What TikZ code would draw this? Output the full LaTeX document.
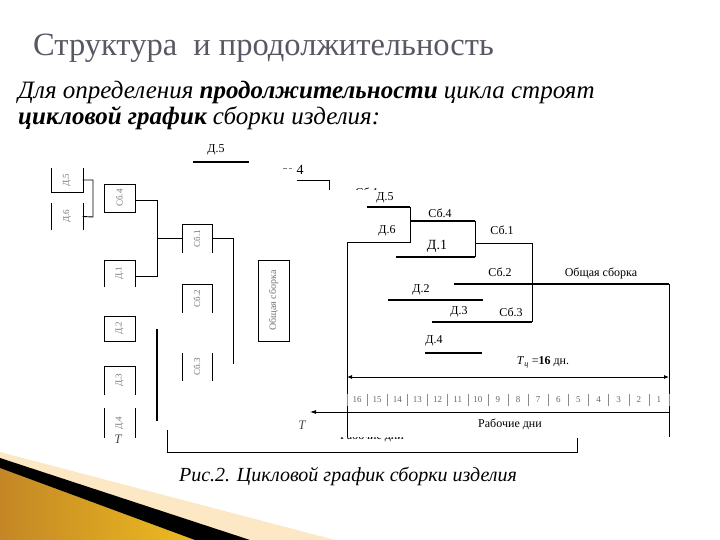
\documentclass[tikz,border=0pt]{standalone}
\usepackage{fontspec}
\setmainfont{Liberation Serif}
\usetikzlibrary{arrows.meta}
\definecolor{titlegray}{RGB}{88,88,100}
\definecolor{swooshorange}{RGB}{230,158,44}
\definecolor{swooshlight}{RGB}{252,232,196}
\tikzset{
  blk/.style={minimum width=31pt,minimum height=28pt,inner sep=0pt,font=\fontsize{9}{9}\selectfont,text=black!55},
  lnk/.style={black,line width=0.9pt},
  bar/.style={black,line width=2.6pt},
  lbl/.style={font=\fontsize{12}{12}\selectfont,inner sep=1pt},
}

\begin{document}
\begin{tikzpicture}[x=1pt,y=-1pt]
  \useasboundingbox (0,0) rectangle (720,540);
  % --- slide decoration ---
  \fill[swooshlight] (0,452) -- (335,540) -- (0,540) -- cycle;
  \shade[left color=swooshorange!85!black,right color=swooshorange!70!yellow] (0,468) -- (195,540) -- (0,540) -- cycle;
  \fill[black] (0,458) -- (250,540) -- (195,540) -- (0,468) -- cycle;
  % --- heading and text ---
  \node[anchor=base west,inner sep=0pt,text=titlegray,font=\fontsize{32.5}{32.5}\selectfont] (title) at (33,56) {Структура\ \ и продолжительность};
  \node[anchor=base west,inner sep=0pt,font=\fontsize{25}{25}\selectfont\itshape] (intro1) at (18,99) {Для определения \textbf{продолжительности} цикла строят};
  \node[anchor=base west,inner sep=0pt,font=\fontsize{25}{25}\selectfont\itshape] (intro2) at (18,125) {\textbf{цикловой график} сборки изделия:};
  \node[font=\fontsize{20}{20}\selectfont\itshape] (caption) at (348,476) {Рис.2. Цикловой график сборки изделия};
  % --- structure (left fragment) ---
  \node[blk,minimum height=24pt] (d5) at (67,180) {\rotatebox{90}{Д.5}};
  \node[blk,minimum height=27pt] (d6) at (67,216.5) {\rotatebox{90}{Д.6}};
  \node[blk,draw,thin] (sb4) at (119.5,198) {\rotatebox{90}{Сб.4}};
  \node[blk,minimum height=27pt] (d1) at (119.5,273.5) {\rotatebox{90}{Д.1}};
  \node[blk,minimum width=30pt,minimum height=29pt] (sb1) at (197,238.5) {\rotatebox{90}{Сб.1}};
  \node[blk,minimum width=30pt,minimum height=29pt] (sb2) at (197,298.5) {\rotatebox{90}{Сб.2}};
  \node[blk,minimum width=30pt] (sb3) at (197,367) {\rotatebox{90}{Сб.3}};
  \node[blk,draw,thin,minimum height=81pt,font=\fontsize{10}{10}\selectfont] (gen) at (273.5,300.5) {\rotatebox{90}{Общая сборка}};
  \node[blk,draw,thin,minimum height=25pt] (d2) at (119.5,328.5) {\rotatebox{90}{Д.2}};
  \node[blk,minimum height=29pt] (d3) at (119.5,380.5) {\rotatebox{90}{Д.3}};
  \node[blk,minimum height=30pt] (d4) at (119.5,423) {\rotatebox{90}{Д.4}};
  \node[font=\fontsize{13}{13}\selectfont\itshape,text=black!70] (tl) at (118,439) {T};
  % open box sides
  \draw[thin] (d5.north west) -- (d5.south west) -- (d5.south east) -- (d5.north east);
  \foreach \b in {d6,sb3,d4} \draw[thin] (\b.north west) -- (\b.south west) (\b.north east) -- (\b.south east);
  \foreach \b in {d1,sb1,sb2,d3} \draw[thin] (\b.south west) -- (\b.north west) -- (\b.north east) -- (\b.south east);
  % links
  \draw[lnk] (d5.east) -- (93,180) -- (93,217) -- (d6.east);
  \draw[lnk] (sb4.east |- 0,200) -- (157,200) -- (157,276) -- (d1.east |- 0,276);
  \draw[lnk] (157,238.5) -- (sb1.west);
  \draw[lnk] (sb1.east) -- (233,238.5) -- (233,364);
  \draw[black,line width=2pt] (157,329) -- (157,421);
  \draw[lnk] (167,430) -- (167,452) -- (577,452) -- (577,438);
  \begin{scope}
    \clip (300,437) rectangle (440,450);
    \node[lbl] (daysold) at (372,436) {Рабочие дни};
  \end{scope}
  % --- cycle chart ---
  \draw[bar] (193,162) -- (249,162);
  \node[lbl] (topd5) at (216,150) {Д.5};
  \draw[black!50,thin] (283,168) -- (287,168) (289,168) -- (292,168);
  \node[lbl,font=\fontsize{14}{14}\selectfont] (top4) at (300,170) {4};
  \draw[lnk] (297,180) -- (329,180) -- (329,190);
  \begin{scope}
    \clip (340,180) rectangle (400,190);
    \node[lbl] (topsb1) at (367,192) {Сб.1};
  \end{scope}
  \foreach \a/\b/\y in {367/410/207,410/475/221,396/475/257,388/483/300,432/532/322,425/482/353}
    \draw[bar] (\a,\y) -- (\b,\y);
  \draw[black,line width=1.8pt] (454,284) -- (669,284);
  \draw[lnk] (410,207) -- (410,242) -- (347,242) -- (347,437);
  \draw[lnk] (475,221) -- (475,257);
  \draw[lnk] (475,243) -- (532,243) -- (532,322);
  \draw[lnk] (669,284) -- (669,437);
  \node[lbl] (lD5) at (385,198) {Д.5};
  \node[lbl] (lD6) at (387,231) {Д.6};
  \node[lbl] (lSb4) at (440,213) {Сб.4};
  \node[lbl,font=\fontsize{14}{14}\selectfont] (lD1) at (437,246) {Д.1};
  \node[lbl] (lSb1) at (502,230) {Сб.1};
  \node[lbl] (lSb2) at (500,272) {Сб.2};
  \node[lbl] (lGen) at (601,273) {Общая сборка};
  \node[lbl] (lD2) at (421,290) {Д.2};
  \node[lbl] (lD3) at (459,312) {Д.3};
  \node[lbl] (lSb3) at (511,312) {Сб.3};
  \node[lbl] (lD4) at (434,341) {Д.4};
  \node[lbl] (tc) at (543,362) {\textit{T}\textsubscript{\textit{ц}} =\textbf{16} дн.};
  % --- day scale ---
  \draw[{Latex[length=5pt,width=4pt]}-{Latex[length=5pt,width=4pt]},line width=0.8pt] (347,377) -- (669,377);
  \foreach \i in {1,...,16} {
    \pgfmathsetmacro\xc{347+20.125*(\i-0.5)}
    \pgfmathtruncatemacro\dd{17-\i}
    \node[font=\fontsize{9}{9}\selectfont,text=black!60,inner sep=0pt] (day\i) at (\xc,400) {\dd};
  }
  \foreach \i in {0,...,16} \draw[black!45,thin] ({347+20.125*\i},394) -- ({347+20.125*\i},406);
  \draw[{Latex[length=6pt,width=4pt]}-,line width=0.8pt] (310,412) -- (669,412);
  \node[font=\fontsize{13}{13}\selectfont\itshape,text=black!70] (tr) at (302,425) {T};
  \node[lbl] (days) at (510,424) {Рабочие дни};
\end{tikzpicture}
\end{document}
